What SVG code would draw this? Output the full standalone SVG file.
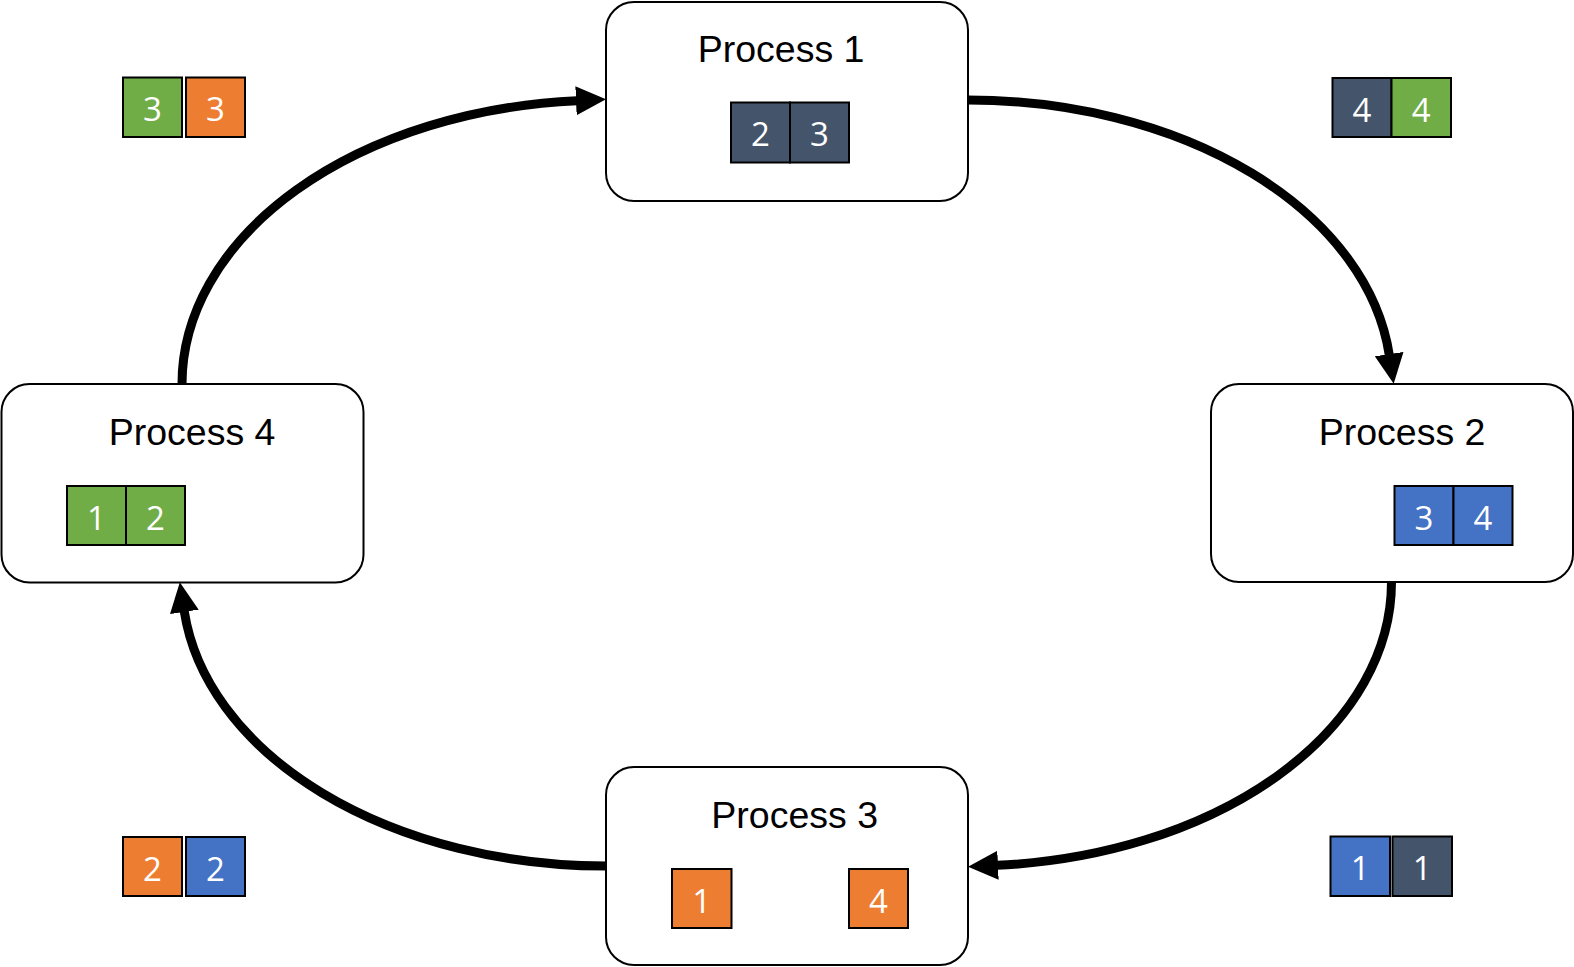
<svg xmlns="http://www.w3.org/2000/svg" width="1574" height="967" viewBox="0 0 1574 967">
  <style>
    .box { fill: #ffffff; stroke: #000000; stroke-width: 2; }
    .title { font-family: "Liberation Sans", Arial, sans-serif; font-size: 37.5px; fill: #000000; }
    .sq { stroke: #000000; stroke-width: 2; }
    .num { font-family: "Open Sans", "Noto Sans", sans-serif; font-size: 33px; fill: #ffffff; text-anchor: middle; }
    .slate { fill: #44546A; }
    .green { fill: #70AD47; }
    .orange { fill: #ED7D31; }
    .blue { fill: #4472C4; }
    .conn { fill: none; stroke: #000000; stroke-width: 9; marker-end: url(#arrow); }
  </style>
  <defs>
    <marker id="arrow" markerUnits="userSpaceOnUse" markerWidth="30" markerHeight="30" viewBox="0 0 30 30" refX="1" refY="15" orient="auto">
      <path d="M0,0.5 L30,15 L0,29.5 Z" fill="#000000"/>
    </marker>
  </defs>
  <rect width="1574" height="967" fill="#ffffff"/>

  <g id="connectors">
    <path class="conn" d="M968,100 A423.5,284 0 0 1 1389.3,355.1"/>
    <path class="conn" d="M1391.5,582 A423.5,284 0 0 1 997,865.3"/>
    <path class="conn" d="M606,866 A424,284 0 0 1 184.2,610.9"/>
    <path class="conn" d="M182,384 A424,284 0 0 1 577,100.7"/>
  </g>

  <g id="process1">
    <rect class="box" x="606" y="2" width="362" height="199" rx="28"/>
    <text class="title" x="697.7" y="61.7">Process 1</text>
    <rect class="sq slate" x="731" y="102.5" width="59" height="60"/>
    <text class="num" x="760.5" y="146">2</text>
    <rect class="sq slate" x="790" y="102.5" width="59" height="60"/>
    <text class="num" x="819.5" y="146">3</text>
  </g>

  <g id="process2">
    <rect class="box" x="1211" y="384" width="362" height="198" rx="28"/>
    <text class="title" x="1318.7" y="445">Process 2</text>
    <rect class="sq blue" x="1394.5" y="486" width="59" height="59"/>
    <text class="num" x="1424" y="529.5">3</text>
    <rect class="sq blue" x="1453.5" y="486" width="59" height="59"/>
    <text class="num" x="1483" y="529.5">4</text>
  </g>

  <g id="process3">
    <rect class="box" x="606" y="767" width="362" height="198" rx="28"/>
    <text class="title" x="711.3" y="828.3">Process 3</text>
    <rect class="sq orange" x="672" y="869" width="59.5" height="59"/>
    <text class="num" x="701.7" y="912.5">1</text>
    <rect class="sq orange" x="849" y="869" width="59" height="59"/>
    <text class="num" x="878.5" y="912.5">4</text>
  </g>

  <g id="process4">
    <rect class="box" x="1.5" y="384" width="362" height="198.5" rx="28"/>
    <text class="title" x="108.7" y="445">Process 4</text>
    <rect class="sq green" x="67" y="486" width="59" height="59"/>
    <text class="num" x="96.5" y="529.5">1</text>
    <rect class="sq green" x="126" y="486" width="59" height="59"/>
    <text class="num" x="155.5" y="529.5">2</text>
  </g>

  <g id="transfer-top-left">
    <rect class="sq green" x="123" y="77.5" width="59" height="59.5"/>
    <text class="num" x="152.5" y="121">3</text>
    <rect class="sq orange" x="186" y="77.5" width="59" height="59.5"/>
    <text class="num" x="215.5" y="121">3</text>
  </g>

  <g id="transfer-top-right">
    <rect class="sq slate" x="1332.5" y="78" width="59" height="59"/>
    <text class="num" x="1362" y="121.5">4</text>
    <rect class="sq green" x="1391.5" y="78" width="59.5" height="59"/>
    <text class="num" x="1421.2" y="121.5">4</text>
  </g>

  <g id="transfer-bottom-left">
    <rect class="sq orange" x="123" y="837" width="59" height="59"/>
    <text class="num" x="152.5" y="880.5">2</text>
    <rect class="sq blue" x="186" y="837" width="59" height="59"/>
    <text class="num" x="215.5" y="880.5">2</text>
  </g>

  <g id="transfer-bottom-right">
    <rect class="sq blue" x="1330.5" y="836.5" width="59.5" height="59.5"/>
    <text class="num" x="1360.2" y="880">1</text>
    <rect class="sq slate" x="1392.5" y="836.5" width="59.5" height="59.5"/>
    <text class="num" x="1422.2" y="880">1</text>
  </g>
</svg>
